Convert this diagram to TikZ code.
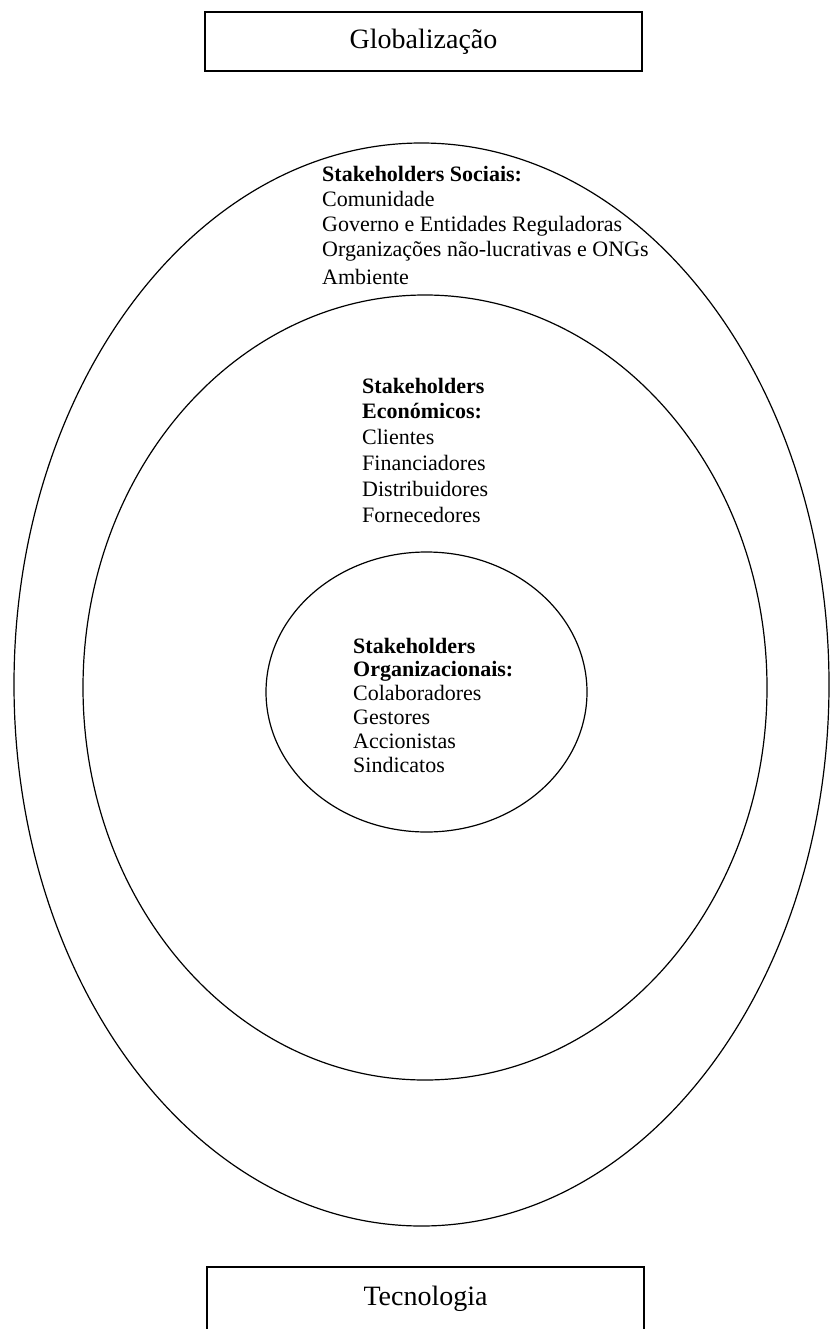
\documentclass[tikz,border=0pt]{standalone}
\usepackage{fontspec}
\setmainfont{Liberation Serif}
\usetikzlibrary{shapes.geometric}
\tikzset{
  ring/.style={draw=black, line width=1.2pt, ellipse, inner sep=0pt, outer sep=0pt},
  labelbox/.style={draw=black, line width=1.5pt, minimum width=437pt, inner xsep=0pt,
    font=\fontsize{28}{32}\selectfont},
  group/.style={inner sep=0pt, anchor=base west, align=left}
}
\begin{document}
\begin{tikzpicture}[x=1pt,y=-1pt]
\useasboundingbox[fill=white] (0,0) rectangle (831,1329);
% rings
\node[ring, minimum width=815pt, minimum height=1083pt] (outer) at (421.5,684.5) {};
\node[ring, minimum width=684pt, minimum height=785pt] (middle) at (425,687.5) {};
\node[ring, minimum width=321pt, minimum height=280pt] (inner) at (426.5,692) {};
% boxes
\node[labelbox, text height=19pt, text depth=4pt, inner ysep=18pt, anchor=base] (glob) at (423.5,49) {Globalização};
\node[labelbox, text height=18.5pt, text depth=20pt, inner ysep=19.5pt, anchor=base] (tec) at (425.5,1305) {Tecnologia};
% texts
\node[group] (soc) at (322,182) {\fontsize{22}{25}\selectfont\begin{tabular}[t]{@{}l@{}}
\textbf{Stakeholders Sociais:}\\
Comunidade\\
Governo e Entidades Reguladoras\\
Organizações não-lucrativas e ONGs\\[3pt]
Ambiente
\end{tabular}};
\node[group] (eco) at (362,393) {\fontsize{22}{25.8}\selectfont\begin{tabular}[t]{@{}l@{}}
\textbf{Stakeholders}\\
\textbf{Económicos:}\\
Clientes\\
Financiadores\\
Distribuidores\\
Fornecedores
\end{tabular}};
\node[group] (org) at (353,653) {\fontsize{22}{23.8}\selectfont\begin{tabular}[t]{@{}l@{}}
\textbf{Stakeholders}\\
\textbf{Organizacionais:}\\
Colaboradores\\
Gestores\\
Accionistas\\
Sindicatos
\end{tabular}};
\end{tikzpicture}
\end{document}
